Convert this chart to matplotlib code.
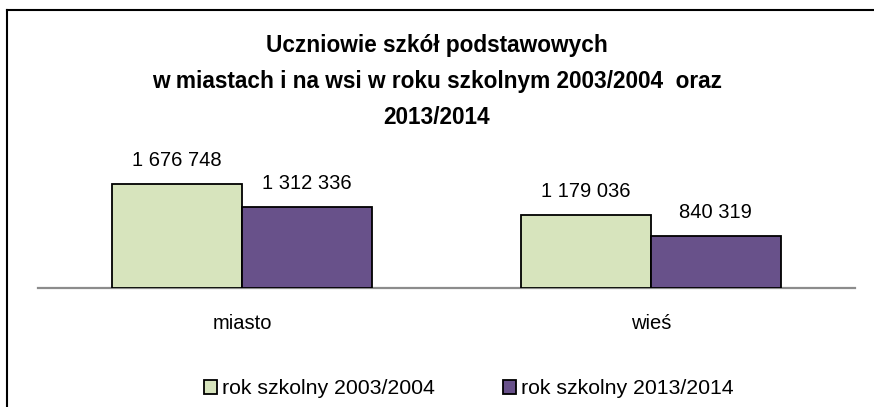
import numpy as np
import matplotlib.pyplot as plt
from matplotlib.lines import Line2D

plt.rcParams['font.family'] = ['Liberation Sans', 'DejaVu Sans']

categories = ['miasto', 'wieś']
series = ['rok szkolny 2003/2004', 'rok szkolny 2013/2014']
y2003 = [1676748, 1179036]
y2013 = [1312336, 840319]
colors = ['#D7E4BD', '#68518A']

fig = plt.figure(figsize=(8.74, 4.07), dpi=100)
ax = fig.add_axes([38 / 874, 1 - 288 / 407, 817 / 874, 136.4 / 407])

x = np.arange(len(categories))
w = 0.318
bars = []
for i, (vals, col) in enumerate([(y2003, colors[0]), (y2013, colors[1])]):
    b = ax.bar(x + (i - 0.5) * w, vals, w, color=col, edgecolor='black',
               linewidth=1.3, label=series[i], zorder=3)
    bars.append(b)
    for rect, v in zip(b, vals):
        ax.annotate(f"{v:,}".replace(',', ' '),
                    (rect.get_x() + rect.get_width() / 2, v),
                    xytext=(0, 10), textcoords='offset points',
                    ha='center', va='bottom', fontsize=14.5)

ax.set_xlim(-0.5, 1.5)
ax.set_ylim(0, 2.2e6)
for s in ['top', 'right', 'left']:
    ax.spines[s].set_visible(False)
ax.spines['bottom'].set_color('#8c8c8c')
ax.spines['bottom'].set_linewidth(1.6)
ax.set_yticks([])
ax.set_xticks(x)
ax.set_xticklabels(categories, fontsize=14.5)
ax.tick_params(axis='x', length=0, pad=19)

fig.text(0.5, 1 - 34 / 407, 'Uczniowie szkół podstawowych\nw miastach i na wsi w roku szkolnym 2003/2004  oraz\n2013/2014',
         ha='center', va='top', fontsize=16.3, fontweight='bold', linespacing=1.72)

fig.legend(handles=bars, labels=series, loc='center', ncol=2,
           bbox_to_anchor=(469 / 874, 1 - 389 / 407), frameon=False,
           fontsize=15.3, handlelength=0.6, handleheight=0.6,
           handletextpad=0.25, columnspacing=3.2)

# outer chart frame (partly cut off in the original)
fig.add_artist(Line2D([7 / 874, 7 / 874], [0, 1 - 10 / 407], color='black', lw=1.5))
fig.add_artist(Line2D([7 / 874, 1], [1 - 10 / 407, 1 - 10 / 407], color='black', lw=1.5))

fig.savefig('out.png', dpi=100)
